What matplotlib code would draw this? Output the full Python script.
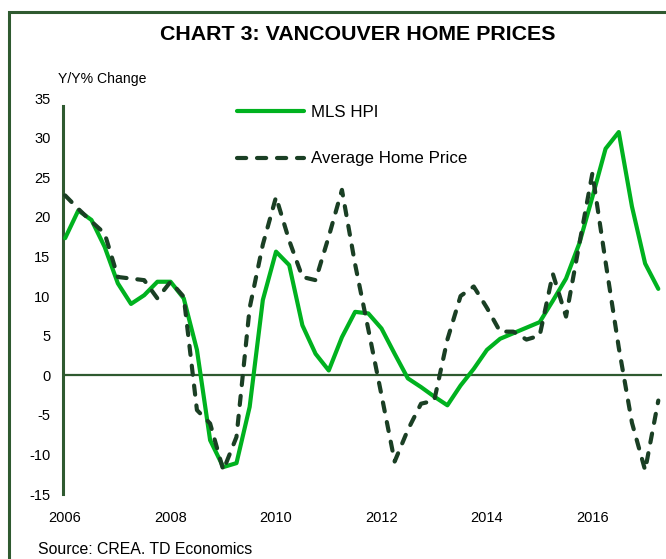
import matplotlib
matplotlib.use("Agg")
import matplotlib.pyplot as plt
from matplotlib.patches import Rectangle
import numpy as np

plt.rcParams['font.family'] = ['Liberation Sans', 'DejaVu Sans']
plt.rcParams['axes.unicode_minus'] = False

# quarterly, 2006Q1 .. 2017Q2
start_year = 2006
mls_hpi = [17.3, 20.8, 19.6, 16.2, 11.6, 9.0, 10.1, 11.8,
           11.8, 9.7, 3.2, -8.2, -11.6, -11.1, -4.0, 9.5,
           15.6, 13.9, 6.3, 2.7, 0.6, 4.8, 8.0, 7.8,
           5.9, 2.7, -0.4, -1.5, -2.7, -3.8, -1.3, 0.8,
           3.2, 4.6, 5.3, 6.0, 6.7, 9.4, 12.2, 16.6,
           22.5, 28.6, 30.7, 21.3, 14.1, 10.9]
avg_price = [22.7, 21.0, 19.4, 17.9, 12.4, 12.2, 12.0, 9.7,
             11.8, 9.9, -4.4, -6.1, -12.0, -7.8, 8.5, 16.5,
             22.5, 17.0, 12.4, 12.0, 17.5, 23.4, 14.0, 5.8,
             -2.5, -10.9, -6.9, -3.6, -3.2, 4.5, 10.0, 11.2,
             8.5, 5.5, 5.5, 4.5, 5.0, 12.8, 7.4, 16.5,
             25.5, 14.3, 3.5, -6.0, -12.0, -3.2]
x_ticks = [2006, 2008, 2010, 2012, 2014, 2016]
y_ticks = list(range(-15, 40, 5))

x = start_year + np.arange(len(mls_hpi)) / 4.0

green = '#00b21f'
dark = '#1a3f24'
frame = '#2f5a30'

fig = plt.figure(figsize=(6.66, 5.59), dpi=100)
fig.patches.append(Rectangle((9/666, -0.1), 1.2, 1 - 12/559 + 0.1,
                             transform=fig.transFigure, fill=False,
                             edgecolor=frame, linewidth=2.2))

ax = fig.add_axes([63/666, 1 - 494/559, 599/666, 396/559])
ax.plot(x, mls_hpi, color=green, lw=3.0, solid_capstyle='round',
        solid_joinstyle='round', label='MLS HPI', zorder=3)
ax.plot(x, avg_price, color=dark, lw=3.0, dashes=(2.2, 2.6),
        dash_capstyle='round', dash_joinstyle='round',
        label='Average Home Price', zorder=4)
ax.axhline(0, color=frame, lw=1.6, zorder=2)

ax.set_xlim(2005.96, 2017.32)
ax.set_ylim(-15, 35)
ax.set_xticks(x_ticks)
ax.set_yticks(y_ticks)
ax.tick_params(length=0, labelsize=10.5)
ax.tick_params(axis='y', pad=9)
ax.tick_params(axis='x', pad=12)
for s in ['top', 'right', 'bottom']:
    ax.spines[s].set_visible(False)
ax.spines['left'].set_color(frame)
ax.spines['left'].set_linewidth(2.2)
ax.spines['left'].set_bounds(-15, 34)

ax.legend(loc='upper left', bbox_to_anchor=(0.29, 0.982), frameon=False,
          fontsize=12.2, handlelength=4.0, handletextpad=0.4,
          labelspacing=1.85, borderpad=0, borderaxespad=0)

fig.text(358/666, 1 - 35/559, 'CHART 3: VANCOUVER HOME PRICES',
         ha='center', va='center', fontsize=15.4, fontweight='bold')
fig.text(58/666, 1 - 79/559, 'Y/Y% Change', ha='left', va='center',
         fontsize=10.1)
fig.text(38/666, 1 - 550/559, 'Source: CREA. TD Economics', ha='left',
         va='center', fontsize=11.4)

fig.savefig('out.png', dpi=100)
